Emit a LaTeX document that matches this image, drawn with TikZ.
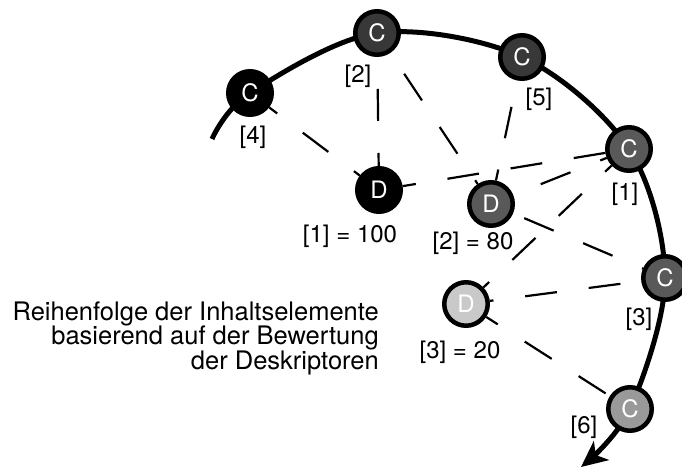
\documentclass[tikz,border=0pt]{standalone}
\usepackage{fontspec}
\setmainfont{TeX Gyre Heros}
\usetikzlibrary{arrows.meta}
\usetikzlibrary{backgrounds}

\begin{document}
\begin{tikzpicture}[x = 1pt, y = -1pt, font = \fontsize{24}{24.5}\selectfont]
	\tikzstyle{itemStyle} = [shape = circle, minimum size = 43.5pt, inner sep = 0pt, outer sep = 2.25pt, line width = 4.5pt, draw, text = white]
	\tikzstyle{rankStyle} = [inner sep = 0pt]
	\tikzstyle{linkStyle} = [line width = 2.2pt, dash pattern = on 32pt off 32pt]
	\tikzstyle{orderStyle} = [line width = 5pt, -{Stealth[length = 26pt, width = 24pt, inset = 7pt]}]
	\useasboundingbox (0, 0) rectangle (682, 468);
	% content items
	\node[itemStyle, fill = black] (c4) at (250, 93) {C};
	\node[itemStyle, fill = black!78] (c2) at (377, 33) {C};
	\node[itemStyle, fill = black!78] (c5) at (522, 57) {C};
	\node[itemStyle, fill = black!65] (c1) at (629, 149) {C};
	\node[itemStyle, fill = black!65] (c3) at (665, 278) {C};
	\node[itemStyle, fill = black!40] (c6) at (630, 409) {C};
	% descriptors
	\node[itemStyle, fill = black] (d1) at (379, 190) {D};
	\node[itemStyle, fill = black!65] (d2) at (491, 204) {D};
	\node[itemStyle, fill = black!21] (d3) at (466, 304) {D};
	% ranks
	\node[rankStyle] (r4) at (253, 137) {[4]};
	\node[rankStyle] (r2) at (358, 76) {[2]};
	\node[rankStyle] (r5) at (539, 99) {[5]};
	\node[rankStyle] (r1) at (625, 194) {[1]};
	\node[rankStyle] (r3) at (639, 319) {[3]};
	\node[rankStyle] (r6) at (584, 427) {[6]};
	\node[rankStyle] (s1) at (350, 236) {[1] = 100};
	\node[rankStyle] (s2) at (473, 243) {[2] = 80};
	\node[rankStyle] (s3) at (460, 352) {[3] = 20};
	\node[rankStyle, align = right, anchor = east, font = \fontsize{25.5}{24.5}\selectfont] (caption) at (379, 338) {Reihenfolge der Inhaltselemente\\basierend auf der Bewertung\\der Deskriptoren};
	% links between items and descriptors
	\foreach \c/\d/\p in {c1/d1/0, c2/d1/32, c4/d1/22, c2/d2/39, c5/d2/37, c1/d2/25, c3/d2/31, c1/d3/23, c3/d3/43, c6/d3/59}
		\draw[linkStyle, dash phase = \p pt] (\c) -- (\d);
	% ordering path
	\coordinate (tail) at (212, 139);
	\coordinate (head) at (581, 467);
	\begin{pgfonlayer}{background}
		\draw[orderStyle] plot[smooth, tension = 0.55] coordinates {(tail) (c4.center) (c2.center) (c5.center) (c1.center) (c3.center) (c6.center) (head)};
	\end{pgfonlayer}
\end{tikzpicture}
\end{document}
